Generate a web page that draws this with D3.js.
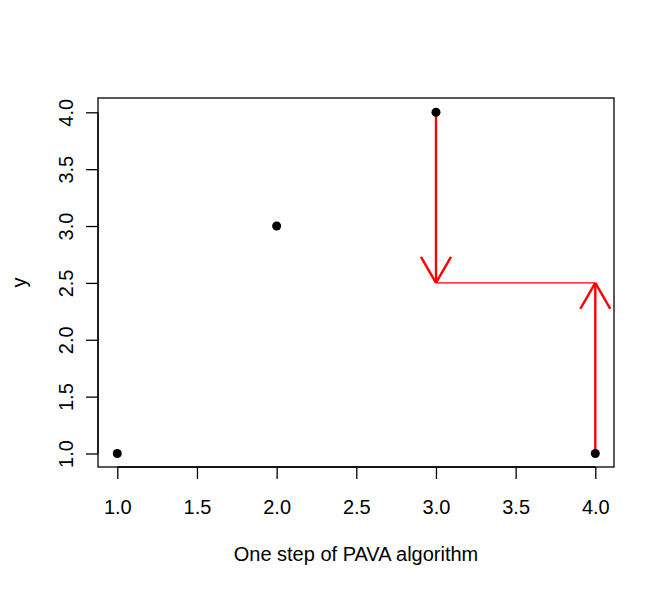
<!DOCTYPE html>
<html><head><meta charset="utf-8">
<script src="https://cdn.jsdelivr.net/npm/d3@7"></script>
<style>body{margin:0;background:#fff}svg{display:block}text{font-family:"Liberation Sans",Arial,sans-serif;fill:#000}</style>
</head><body>
<script>
const xs = [1, 2, 3, 4];
const ys = [1, 3, 4, 1];
const xTicks = [1.0, 1.5, 2.0, 2.5, 3.0, 3.5, 4.0];
const yTicks = [1.0, 1.5, 2.0, 2.5, 3.0, 3.5, 4.0];
const pooled = 2.5;
const xLabel = "One step of PAVA algorithm";
const yLabel = "y";

const W = 665, H = 590;
const FS = 20;
const box = {l: 98, r: 614, t: 98, b: 467};
const x = d3.scaleLinear().domain([1, 4]).range([117.3, 595.3]);
const y = d3.scaleLinear().domain([1, 4]).range([453.5, 112.3]);

const svg = d3.select("body").append("svg").attr("width", W).attr("height", H);

svg.append("rect").attr("x", box.l).attr("y", box.t)
  .attr("width", box.r - box.l).attr("height", box.b - box.t)
  .attr("fill", "none").attr("stroke", "#000").attr("stroke-width", 1.3);

// x axis
const xa = svg.append("g").attr("transform", `translate(0,${box.b})`)
  .call(d3.axisBottom(x).tickValues(xTicks).tickFormat(d3.format(".1f")).tickSize(12).tickPadding(0));
xa.select(".domain").attr("d", `M${x(1)},0H${x(4)}`).attr("stroke-width", 1.3);
xa.selectAll(".tick line").attr("stroke-width", 1.3);
xa.selectAll(".tick text").attr("y", 47).attr("dy", null).attr("font-size", FS)
  .style("font-family", '"Liberation Sans",Arial,sans-serif');

// y axis
const ya = svg.append("g").attr("transform", `translate(${box.l},0)`)
  .call(d3.axisLeft(y).tickValues(yTicks).tickFormat(d3.format(".1f")).tickSize(12).tickPadding(0));
ya.select(".domain").attr("d", `M0,${y(1)}V${y(4)}`).attr("stroke-width", 1.3);
ya.selectAll(".tick line").attr("stroke-width", 1.3);
ya.selectAll(".tick text").attr("x", null).attr("dy", null)
  .attr("text-anchor", "middle").attr("transform", "translate(-25,0) rotate(-90)")
  .attr("font-size", FS).style("font-family", '"Liberation Sans",Arial,sans-serif');
svg.selectAll(".tick text").attr("fill", "#000");

// labels
svg.append("text").attr("x", (box.l + box.r) / 2).attr("y", 561).attr("text-anchor", "middle")
  .attr("font-size", FS).text(xLabel);
svg.append("text").attr("transform", `translate(26,${(box.t + box.b) / 2}) rotate(-90)`)
  .attr("text-anchor", "middle").attr("font-size", FS).text(yLabel);

// red segments
const red = "#ff0000";
function arrow(x0, y0, x1, y1) {
  svg.append("line").attr("x1", x(x0)).attr("y1", y(y0)).attr("x2", x(x1)).attr("y2", y(y1))
    .attr("stroke", red).attr("stroke-width", 2.4);
  const px1 = x(x1), py1 = y(y1);
  const ang = Math.atan2(py1 - y(y0), px1 - x(x0));
  const len = 30, a = Math.PI / 6;
  [ang + a, ang - a].forEach(t => {
    svg.append("line").attr("x1", px1).attr("y1", py1)
      .attr("x2", px1 - len * Math.cos(t)).attr("y2", py1 - len * Math.sin(t))
      .attr("stroke", red).attr("stroke-width", 2.4).attr("stroke-linecap", "butt");
  });
}
arrow(xs[2], ys[2], xs[2], pooled);
svg.append("line").attr("x1", x(xs[2])).attr("y1", y(pooled)).attr("x2", x(xs[3])).attr("y2", y(pooled))
  .attr("stroke", red).attr("stroke-width", 1.2);
arrow(xs[3], ys[3], xs[3], pooled);

// points
svg.selectAll("circle.pt").data(xs).enter().append("circle")
  .attr("cx", (d) => x(d)).attr("cy", (d, i) => y(ys[i])).attr("r", 4.5).attr("fill", "#000");
</script>
</body></html>
